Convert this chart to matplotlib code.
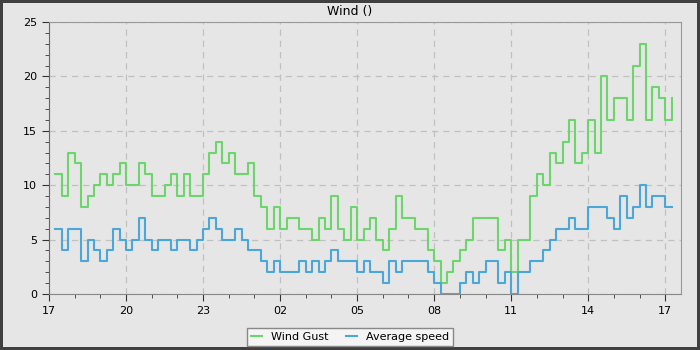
import numpy as np
import pandas as pd
import matplotlib
matplotlib.use("Agg")
import matplotlib.pyplot as plt
import matplotlib.dates as mdates

# 15-minute readings starting 17:15
start = "2024-01-01 17:15"
gust = [11, 9, 13, 12, 8, 9, 10, 11, 10, 11, 12, 10, 10, 12, 11,
        9, 9, 10, 11, 9, 11, 9, 9, 11, 13, 14, 12, 13, 11, 11, 12,
        9, 8, 6, 8, 6, 7, 7, 6, 6, 5, 7, 6, 9, 6, 5, 8,
        5, 6, 7, 5, 4, 6, 9, 7, 7, 6, 6, 4, 3, 1, 2, 3,
        4, 5, 7, 7, 7, 7, 4, 5, 2, 5, 5, 9, 11, 10, 13, 12,
        14, 16, 12, 13, 16, 13, 20, 16, 18, 18, 16, 21, 23, 16, 19, 18, 16, 18]
avg_speed = [6, 4, 6, 6, 3, 5, 4, 3, 4, 6, 5, 4, 5, 7, 5,
             4, 5, 5, 4, 5, 5, 4, 5, 6, 7, 6, 5, 5, 6, 5, 4,
             4, 3, 2, 3, 2, 2, 2, 3, 2, 3, 2, 3, 4, 3, 3, 3,
             2, 3, 2, 2, 1, 3, 2, 3, 3, 3, 3, 2, 1, 0, 0, 0,
             1, 2, 1, 2, 3, 3, 1, 2, 0, 2, 2, 3, 3, 4, 5, 6,
             6, 7, 6, 6, 8, 8, 8, 7, 6, 9, 7, 8, 10, 8, 9, 9, 8, 8]
times = pd.date_range(start, periods=len(gust), freq="15min")

bg = "#e6e6e6"
fig = plt.figure(figsize=(7, 3.5), dpi=100, facecolor=bg,
                 edgecolor="#404040", linewidth=4)
ax = fig.add_axes([0.07, 0.16, 0.903, 0.777])
ax.set_facecolor(bg)

ax.plot(times, gust, drawstyle="steps-post", color="#6cd66c", lw=1.5, label="Wind Gust")
ax.plot(times, avg_speed, drawstyle="steps-post", color="#4aa8d8", lw=1.5, label="Average speed")

ax.set_ylim(0, 25)
ax.set_yticks(range(0, 26, 5))
ax.set_yticks(range(0, 26), minor=True)
ax.set_xlim(pd.Timestamp("2024-01-01 17:00"), pd.Timestamp("2024-01-02 17:37"))
ax.xaxis.set_major_locator(mdates.HourLocator(byhour=range(2, 24, 3)))
ax.xaxis.set_major_formatter(mdates.DateFormatter("%H"))
ax.xaxis.set_minor_locator(mdates.HourLocator())
ax.tick_params(labelsize=8, color="#333333", length=5)
ax.tick_params(which="minor", length=3, color="#333333")
ax.grid(True, linestyle=(0, (5, 4)), color="#c0c0c0", lw=0.9)
for s in ax.spines.values():
    s.set_color("#999999")
ax.spines["left"].set_color("#666666")
ax.spines["bottom"].set_color("#888888")

fig.suptitle("Wind ()", y=0.985, fontsize=9)
leg = fig.legend(loc="center", bbox_to_anchor=(0.5, 0.037), ncol=2, fontsize=8,
                 fancybox=False, framealpha=1, facecolor="#f4f4f4",
                 edgecolor="#888888", handlelength=1.0, columnspacing=1.5)

plt.savefig("out.png")
